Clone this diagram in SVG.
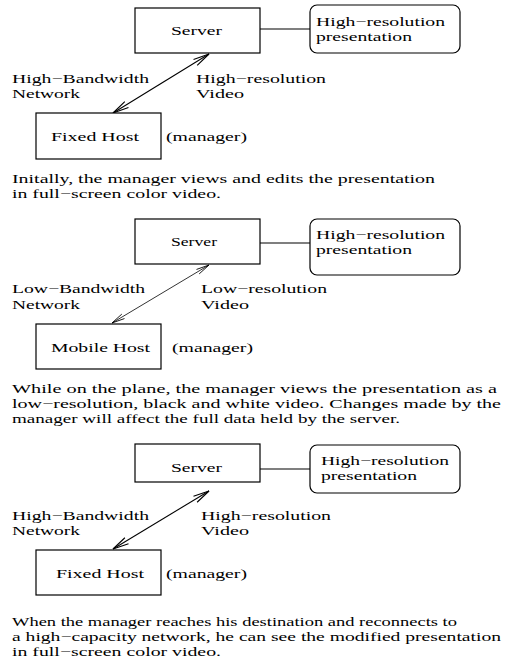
<svg xmlns="http://www.w3.org/2000/svg" width="509" height="659" viewBox="0 0 509 659">
<defs>
<marker id="ah" markerUnits="userSpaceOnUse" markerWidth="20" markerHeight="12" viewBox="-17 -6 20 12" refX="0" refY="0" orient="auto-start-reverse" overflow="visible">
<path d="M-16,-3.5 L0,0 L-16,3.5" fill="none" stroke="#000" stroke-width="1.1"/>
</marker>
<marker id="ahs" markerUnits="userSpaceOnUse" markerWidth="20" markerHeight="12" viewBox="-17 -6 20 12" refX="0" refY="0" orient="auto-start-reverse" overflow="visible">
<path d="M-13,-2.6 L0,0 L-13,2.6" fill="none" stroke="#000" stroke-width="0.8"/>
</marker>
<style>
text{font-family:"Liberation Serif","Times New Roman",serif;font-size:12.5px;fill:#000}
.box{fill:#fff;stroke:#000;stroke-width:1.2}
.conn{stroke:#000;stroke-width:1.1;fill:none}
</style>
</defs>
<rect width="509" height="659" fill="#fff"/>

<!-- Panel 1 -->
<g id="connectors1">
<line class="conn" x1="260" y1="29" x2="310" y2="29"/>
<line class="conn" x1="209" y1="54" x2="113" y2="113" marker-start="url(#ah)" marker-end="url(#ah)"/>
</g>
<g id="server1"><rect class="box" x="135" y="8" width="125" height="45"/><text x="171" y="35" textLength="51" lengthAdjust="spacingAndGlyphs">Server</text></g>
<g id="pres1"><rect class="box" x="310" y="5" width="150" height="48" rx="7"/><text x="316" y="26" textLength="129" lengthAdjust="spacingAndGlyphs">High−resolution</text><text x="316" y="41" textLength="96" lengthAdjust="spacingAndGlyphs">presentation</text></g>
<g id="host1"><rect class="box" x="36" y="113" width="125" height="46"/><text x="51" y="141" textLength="88" lengthAdjust="spacingAndGlyphs">Fixed Host</text></g>
<g id="labels1">
<text x="166" y="141" textLength="81" lengthAdjust="spacingAndGlyphs">(manager)</text>
<text x="12" y="83" textLength="137" lengthAdjust="spacingAndGlyphs">High−Bandwidth</text>
<text x="12" y="98" textLength="68" lengthAdjust="spacingAndGlyphs">Network</text>
<text x="196" y="83" textLength="130" lengthAdjust="spacingAndGlyphs">High−resolution</text>
<text x="196" y="98" textLength="48" lengthAdjust="spacingAndGlyphs">Video</text>
<text x="12" y="183" textLength="423" lengthAdjust="spacingAndGlyphs">Initally, the manager views and edits the presentation</text>
<text x="12" y="198" textLength="209" lengthAdjust="spacingAndGlyphs">in full−screen color video.</text>
</g>

<!-- Panel 2 -->
<g id="connectors2">
<line class="conn" x1="260" y1="243" x2="310" y2="243"/>
<line x1="209" y1="265" x2="112" y2="323" stroke="#000" stroke-width="0.8" marker-start="url(#ahs)" marker-end="url(#ahs)"/>
</g>
<g id="server2"><rect class="box" x="135" y="219" width="125" height="45"/><text x="171" y="246" textLength="46" lengthAdjust="spacingAndGlyphs">Server</text></g>
<g id="pres2"><rect class="box" x="310" y="219" width="150" height="56" rx="7"/><text x="316" y="239" textLength="129" lengthAdjust="spacingAndGlyphs">High−resolution</text><text x="316" y="254" textLength="96" lengthAdjust="spacingAndGlyphs">presentation</text></g>
<g id="host2"><rect class="box" x="36" y="324" width="125" height="45"/><text x="51" y="352" textLength="99" lengthAdjust="spacingAndGlyphs">Mobile Host</text></g>
<g id="labels2">
<text x="172" y="352" textLength="81" lengthAdjust="spacingAndGlyphs">(manager)</text>
<text x="12" y="293" textLength="133" lengthAdjust="spacingAndGlyphs">Low−Bandwidth</text>
<text x="12" y="309" textLength="68" lengthAdjust="spacingAndGlyphs">Network</text>
<text x="201" y="293" textLength="126" lengthAdjust="spacingAndGlyphs">Low−resolution</text>
<text x="201" y="309" textLength="48" lengthAdjust="spacingAndGlyphs">Video</text>
<text x="12" y="393" textLength="485" lengthAdjust="spacingAndGlyphs">While on the plane, the manager views the presentation as a</text>
<text x="12" y="408" textLength="489" lengthAdjust="spacingAndGlyphs">low−resolution, black and white video. Changes made by the</text>
<text x="12" y="423" textLength="388" lengthAdjust="spacingAndGlyphs">manager will affect the full data held by the server.</text>
</g>

<!-- Panel 3 -->
<g id="connectors3">
<line class="conn" x1="260" y1="469" x2="310" y2="469"/>
<line class="conn" x1="209" y1="491" x2="113" y2="549" marker-start="url(#ah)" marker-end="url(#ah)"/>
</g>
<g id="server3"><rect class="box" x="135" y="444" width="125" height="38"/><text x="171" y="472" textLength="51" lengthAdjust="spacingAndGlyphs">Server</text></g>
<g id="pres3"><rect class="box" x="310" y="445" width="150" height="48" rx="7"/><text x="321" y="465" textLength="128" lengthAdjust="spacingAndGlyphs">High−resolution</text><text x="321" y="480" textLength="96" lengthAdjust="spacingAndGlyphs">presentation</text></g>
<g id="host3"><rect class="box" x="36" y="550" width="125" height="45"/><text x="56" y="578" textLength="88" lengthAdjust="spacingAndGlyphs">Fixed Host</text></g>
<g id="labels3">
<text x="166" y="578" textLength="81" lengthAdjust="spacingAndGlyphs">(manager)</text>
<text x="12" y="520" textLength="137" lengthAdjust="spacingAndGlyphs">High−Bandwidth</text>
<text x="12" y="535" textLength="68" lengthAdjust="spacingAndGlyphs">Network</text>
<text x="201" y="520" textLength="130" lengthAdjust="spacingAndGlyphs">High−resolution</text>
<text x="201" y="535" textLength="48" lengthAdjust="spacingAndGlyphs">Video</text>
<text x="12" y="626" textLength="445" lengthAdjust="spacingAndGlyphs">When the manager reaches his destination and reconnects to</text>
<text x="12" y="641" textLength="489" lengthAdjust="spacingAndGlyphs">a high−capacity network, he can see the modified presentation</text>
<text x="12" y="656" textLength="209" lengthAdjust="spacingAndGlyphs">in full−screen color video.</text>
</g>
</svg>
